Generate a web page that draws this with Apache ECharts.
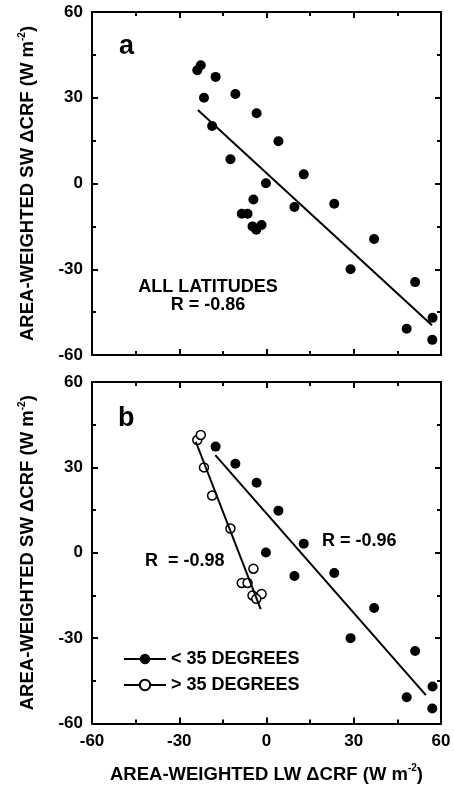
<!DOCTYPE html>
<html>
<head>
<meta charset="utf-8">
<script src="https://cdn.jsdelivr.net/npm/echarts@6/dist/echarts.min.js"></script>
<style>
  html, body { margin: 0; padding: 0; background: #fff; }
  #chart { width: 454px; height: 785px; }
</style>
</head>
<body>
<div id="chart"></div>
<script>
// < 35 degrees (filled dots)
const lowX = [-17.5, -10.7, -3.4, 4.1, -0.2, 12.8, 9.6, 23.3, 37.0, 28.9, 51.1, 48.2, 57.1, 57.0]
const lowY = [37.3, 31.3, 24.6, 14.8, 0.1, 3.2, -8.2, -7.1, -19.4, -30.0, -34.5, -50.8, -47.0, -54.7]
// > 35 degrees (open dots)
const highX = [-23.8, -22.6, -21.5, -18.7, -12.4, -4.5, -8.5, -6.5, -4.8, -1.7, -3.5]
const highY = [39.6, 41.4, 30.0, 20.1, 8.5, -5.6, -10.6, -10.6, -15.0, -14.5, -16.2]
// fitted lines, end points
const fitAllX = [-23.6, 56.9]
const fitAllY = [25.7, -49.6]
const fitLowX = [-17.6, 54.8]
const fitLowY = [34.3, -50.0]
const fitHighX = [-24.3, -2.0]
const fitHighY = [39.0, -19.8]
const ticks = [-60, -30, 0, 30, 60]

const FONT = '"Liberation Sans", Arial, Helvetica, sans-serif'
const pairs = (xs, ys) => xs.map((x, i) => [x, ys[i]])

const nameRich = {
  n: { fontFamily: FONT, fontWeight: 'bold', fontSize: 18.5, color: '#000', lineHeight: 22 },
  sup: { fontFamily: FONT, fontWeight: 'bold', fontSize: 10, color: '#000', lineHeight: 10, verticalAlign: 'top' }
}

function axis (opt) {
  return Object.assign({
    type: 'value',
    min: ticks[0],
    max: ticks[ticks.length - 1],
    interval: 30,
    axisLine: { show: true, onZero: false, lineStyle: { color: '#000', width: 2 } },
    axisTick: { show: true, inside: true, length: 6, lineStyle: { color: '#000', width: 2 } },
    minorTick: { show: true, splitNumber: 2, length: 4, lineStyle: { color: '#000', width: 2 } },
    splitLine: { show: false },
    axisLabel: { show: false }
  }, opt)
}

const label = {
  show: true,
  color: '#000',
  fontFamily: FONT,
  fontWeight: 'bold',
  fontSize: 17
}

const dotFilled = { color: '#000', opacity: 1 }
const dotOpen = { color: '#fff', borderColor: '#000', borderWidth: 1.5, opacity: 1 }

const chart = echarts.init(document.getElementById('chart'))

chart.setOption({
  backgroundColor: '#fff',
  animation: false,
  grid: [
    { left: 92, top: 12, width: 349, height: 343 },
    { left: 92, top: 382, width: 349, height: 343 }
  ],
  xAxis: [
    axis({ gridIndex: 0, position: 'bottom' }),
    axis({ gridIndex: 0, position: 'top' }),
    axis({
      gridIndex: 1,
      position: 'bottom',
      axisLabel: Object.assign({ margin: 9 }, label),
      name: '{n|AREA-WEIGHTED LW ΔCRF (W m}{sup|-2}{n|)}',
      nameLocation: 'middle',
      nameGap: 40,
      nameTextStyle: { rich: nameRich }
    }),
    axis({ gridIndex: 1, position: 'top' })
  ],
  yAxis: [
    axis({
      gridIndex: 0,
      position: 'left',
      axisLabel: Object.assign({ margin: 9 }, label),
      name: '{n|AREA-WEIGHTED SW ΔCRF (W m}{sup|-2}{n|)}',
      nameLocation: 'middle',
      nameRotate: 90,
      nameGap: 53,
      nameTextStyle: { rich: nameRich }
    }),
    axis({ gridIndex: 0, position: 'right' }),
    axis({
      gridIndex: 1,
      position: 'left',
      axisLabel: Object.assign({ margin: 9 }, label),
      name: '{n|AREA-WEIGHTED SW ΔCRF (W m}{sup|-2}{n|)}',
      nameLocation: 'middle',
      nameRotate: 90,
      nameGap: 53,
      nameTextStyle: { rich: nameRich }
    }),
    axis({ gridIndex: 1, position: 'right' })
  ],
  legend: {
    data: ['< 35 DEGREES', '> 35 DEGREES'],
    left: 118,
    top: 645,
    orient: 'vertical',
    itemWidth: 42,
    itemHeight: 13,
    itemGap: 8,
    selectedMode: false,
    textStyle: { fontFamily: FONT, fontWeight: 'bold', fontSize: 18, color: '#000' }
  },
  series: [
    // panel a
    {
      name: 'fit all',
      type: 'line',
      xAxisIndex: 0,
      yAxisIndex: 0,
      data: pairs(fitAllX, fitAllY),
      showSymbol: false,
      lineStyle: { color: '#000', width: 2 }
    },
    {
      name: 'all low',
      type: 'scatter',
      xAxisIndex: 0,
      yAxisIndex: 0,
      data: pairs(lowX, lowY),
      symbolSize: 10,
      itemStyle: dotFilled
    },
    {
      name: 'all high',
      type: 'scatter',
      xAxisIndex: 0,
      yAxisIndex: 0,
      data: pairs(highX, highY),
      symbolSize: 10,
      itemStyle: dotFilled
    },
    // panel b
    {
      name: '< 35 DEGREES',
      type: 'line',
      xAxisIndex: 2,
      yAxisIndex: 2,
      data: pairs(fitLowX, fitLowY),
      symbol: 'circle',
      showSymbol: false,
      lineStyle: { color: '#000', width: 2 },
      itemStyle: dotFilled
    },
    {
      name: '> 35 DEGREES',
      type: 'line',
      xAxisIndex: 2,
      yAxisIndex: 2,
      data: pairs(fitHighX, fitHighY),
      symbol: 'circle',
      showSymbol: false,
      lineStyle: { color: '#000', width: 2 },
      itemStyle: dotOpen
    },
    {
      name: 'low pts',
      type: 'scatter',
      xAxisIndex: 2,
      yAxisIndex: 2,
      data: pairs(lowX, lowY),
      symbolSize: 10,
      itemStyle: dotFilled
    },
    {
      name: 'high pts',
      type: 'scatter',
      xAxisIndex: 2,
      yAxisIndex: 2,
      data: pairs(highX, highY),
      symbolSize: 9,
      itemStyle: dotOpen
    }
  ],
  graphic: [
    { type: 'text', left: 119, top: 33, style: { text: 'a', font: 'bold 27px ' + FONT, fill: '#000' } },
    { type: 'text', left: 118, top: 405, style: { text: 'b', font: 'bold 27px ' + FONT, fill: '#000' } },
    { type: 'text', x: 208, y: 287, style: { text: 'ALL LATITUDES', font: 'bold 18px ' + FONT, fill: '#000', textAlign: 'center', textVerticalAlign: 'middle' } },
    { type: 'text', x: 208, y: 305, style: { text: 'R = -0.86', font: 'bold 18px ' + FONT, fill: '#000', textAlign: 'center', textVerticalAlign: 'middle' } },
    { type: 'text', x: 322, y: 541, style: { text: 'R = -0.96', font: 'bold 18px ' + FONT, fill: '#000', textVerticalAlign: 'middle' } },
    { type: 'text', x: 145, y: 561, style: { text: 'R  = -0.98', font: 'bold 18px ' + FONT, fill: '#000', textVerticalAlign: 'middle' } }
  ]
})
</script>
</body>
</html>
